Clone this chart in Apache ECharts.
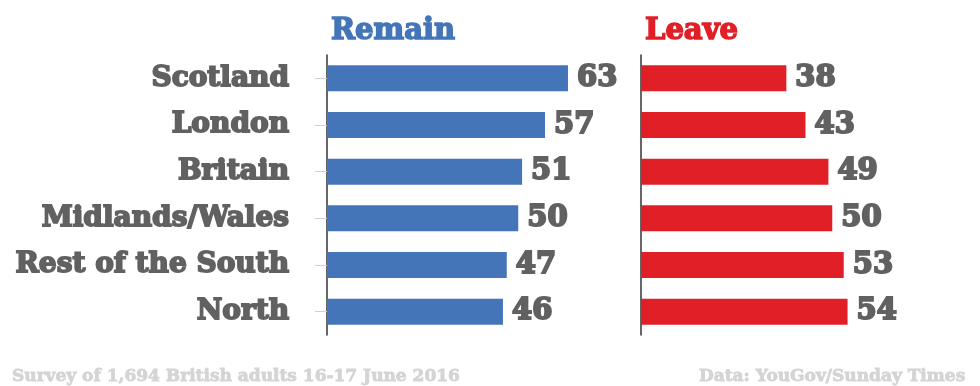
<!DOCTYPE html>
<html><head><meta charset="utf-8">
<script src="https://cdn.jsdelivr.net/npm/echarts@6/dist/echarts.min.js"></script>
<style>html,body{margin:0;padding:0;background:#fff}#c{width:980px;height:386px}</style>
</head><body><div id="c"></div>
<script>
const categories = ['Scotland','London','Britain','Midlands/Wales','Rest of the South','North'];
const remain = [63,57,51,50,47,46];
const leave = [38,43,49,50,53,54];
const titles = ['Remain','Leave'];
const footLeft = 'Survey of 1,694 British adults 16-17 June 2016';
const footRight = 'Data: YouGov/Sunday Times';

const FONT = '"DejaVu Serif", serif';
const GRAY = '#616161';
const chart = echarts.init(document.getElementById('c'), null, {renderer:'canvas'});
const valLabel = {show:true, position:'right', distance:9, color:GRAY, fontFamily:FONT, fontWeight:'bold', fontSize:29, textBorderColor:GRAY, textBorderWidth:2};
chart.setOption({
  animation:false,
  title:[
    {text:titles[0], left:326, top:12, textStyle:{color:'#4475b8', fontFamily:FONT, fontWeight:'bold', fontSize:29, textBorderColor:'#4475b8', textBorderWidth:1.5}},
    {text:titles[1], left:640, top:12, textStyle:{color:'#e01f26', fontFamily:FONT, fontWeight:'bold', fontSize:29, textBorderColor:'#e01f26', textBorderWidth:1.5}},
    {text:footLeft, left:7, top:363, textStyle:{color:'#d4d4d4', fontFamily:FONT, fontWeight:'bold', fontSize:17, textBorderColor:'#d4d4d4', textBorderWidth:0.8}},
    {text:footRight, right:9, top:363, textStyle:{color:'#d4d4d4', fontFamily:FONT, fontWeight:'bold', fontSize:17, textBorderColor:'#d4d4d4', textBorderWidth:0.8}}
  ],
  grid:[
    {left:327, top:55, width:306, height:280},
    {left:641, top:55, width:306, height:280}
  ],
  xAxis:[
    {gridIndex:0, type:'value', min:0, max:80, show:false},
    {gridIndex:1, type:'value', min:0, max:80, show:false}
  ],
  yAxis:[
    {gridIndex:0, type:'category', data:categories, inverse:true, offset:11,
     axisLine:{show:false},
     axisTick:{show:true, alignWithLabel:true, length:12, lineStyle:{color:'#d0d0d0', width:1}},
     axisLabel:{margin:27, color:GRAY, fontFamily:FONT, fontWeight:'bold', fontSize:28, textBorderColor:GRAY, textBorderWidth:1.8}},
    {gridIndex:0, type:'category', data:categories, inverse:true, position:'left',
     axisLine:{show:true, lineStyle:{color:'#333', width:1.5}}, axisTick:{show:false}, axisLabel:{show:false}},
    {gridIndex:1, type:'category', data:categories, inverse:true, position:'left',
     axisLine:{show:true, lineStyle:{color:'#333', width:1.5}}, axisTick:{show:false}, axisLabel:{show:false}}
  ],
  series:[
    {type:'bar', xAxisIndex:0, yAxisIndex:0, data:remain, barWidth:26, itemStyle:{color:'#4475b8'}, label:valLabel},
    {type:'bar', xAxisIndex:1, yAxisIndex:2, data:leave, barWidth:26, itemStyle:{color:'#e01f26'}, label:valLabel}
  ]
});
</script></body></html>
